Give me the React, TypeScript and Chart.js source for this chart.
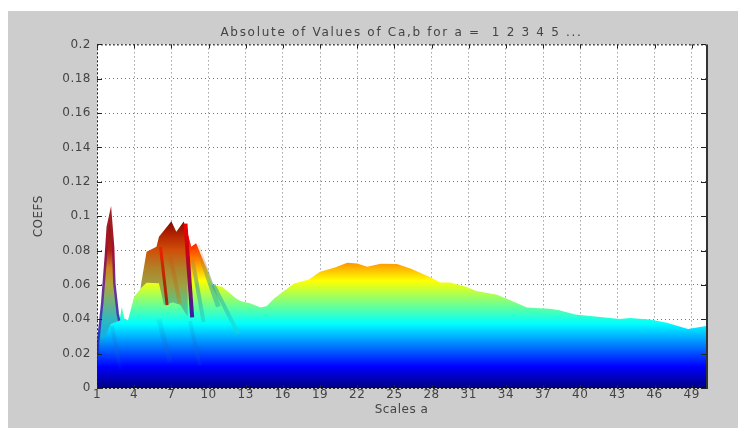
import React, { useEffect, useRef } from "react";
import { Chart, registerables } from "chart.js";

Chart.register(...registerables);

const titleText = "Absolute of Values of Ca,b for a =  1 2 3 4 5 ...";
const xTitle = "Scales a";
const yTitle = "COEFS";
const xTickValues = [1, 4, 7, 10, 13, 16, 19, 22, 25, 28, 31, 34, 37, 40, 43, 46, 49];
const yTickValues = [0, 0.02, 0.04, 0.06, 0.08, 0.1, 0.12, 0.14, 0.16, 0.18, 0.2];

// [scale a, coefficient]
const mainRidge = [
  [8.3, 0.0905], [8.6, 0.0822], [9, 0.0842], [9.9, 0.0686], [10.3, 0.0599], [11.1, 0.0589], [12.2, 0.0522],
  [12.57, 0.0506], [13.4, 0.0492], [14.2, 0.0469], [14.7, 0.0477], [15.3, 0.0521], [16, 0.056], [16.9, 0.0608],
  [18.1, 0.0632], [19, 0.0677], [20.2, 0.0702], [21.2, 0.0729], [22, 0.0725], [22.8, 0.0706], [23.9, 0.0723],
  [25.2, 0.0722], [26.3, 0.0696], [27.9, 0.0644], [28.7, 0.0614], [29.5, 0.0614], [30.8, 0.0589], [31.6, 0.0564],
  [33.3, 0.0543], [34.3, 0.0512], [35.7, 0.0469], [37.5, 0.0461], [38.3, 0.0453], [39.6, 0.0428], [41, 0.0418],
  [43.2, 0.0401], [44, 0.0407], [45.6, 0.0399], [47, 0.038], [48.7, 0.0343], [50.15, 0.0361],
];
const peakBack = [
  [4.5, 0.058], [5, 0.0793], [5.8, 0.0822], [6, 0.088], [7, 0.0971], [7.4, 0.0909], [8, 0.0969], [8.6, 0.0822], [9, 0.06],
];
const spike = [
  [1, 0.02], [1.08, 0.026], [1.42, 0.0494], [1.71, 0.0763], [1.87, 0.0938], [2.09, 0.101], [2.3, 0.0821],
  [2.4, 0.0609], [2.67, 0.0434], [2.8, 0.0385],
];
const midLayer = [
  [2.6, 0.038], [2.8, 0.0385], [3, 0.0473], [3.2, 0.0405], [3.5, 0.0395], [4, 0.0531], [4.6, 0.0585], [5, 0.0613],
  [6, 0.0609], [6.4, 0.0483], [7.1, 0.0497], [7.7, 0.0483], [8.4, 0.0405], [9, 0.038],
];
const frontLayer = [
  [1, 0.014], [1.5, 0.027], [2.1, 0.0372], [2.9, 0.0395], [3.9, 0.0385], [4.7, 0.0366], [5.8, 0.0444], [7.1, 0.0497],
  [7.7, 0.0483], [8.4, 0.0405], [9.7, 0.036], [10.8, 0.0328], [12.4, 0.0309], [13, 0.03],
];
const streakRedA = [[6.12, 0.0822], [6.66, 0.0482]];
const streakMuted = [[6.93, 0.0764], [7.68, 0.0492]];
const streakDeep = [[8.14, 0.0957], [8.68, 0.0411]];
const streakTealA = [[9.08, 0.0831], [10.8, 0.0473]];
const streakTealB = [[8.7, 0.075], [9.6, 0.0385]];
const streakTealC = [[10.4, 0.06], [12.4, 0.0315]];
const streakLowA = [[2.2, 0.036], [2.9, 0.0105]];
const streakLowB = [[8.5, 0.039], [9.3, 0.013]];
const streakLowC = [[6, 0.04], [6.9, 0.015]];

// colour ramps: value → colour
const jet: [number, string][] = [
  [0, "#000082"], [0.0125, "#0000ff"], [0.0375, "#00ffff"], [0.0625, "#ffff00"], [0.0875, "#ff0000"], [0.1, "#800000"],
];
const mutedPeak: [number, string][] = [
  [0.04, "#20d8c8"], [0.05, "#60c080"], [0.06, "#a0a040"], [0.07, "#b08028"], [0.08, "#d05008"], [0.09, "#b02000"], [0.098, "#780800"],
];
const spikeFill: [number, string][] = [
  [0, "#000082"], [0.0125, "#0000ff"], [0.03, "#10b0e0"], [0.04, "#30b8c0"], [0.05, "#70b080"], [0.06, "#b0a838"],
  [0.07, "#d08020"], [0.08, "#b02018"], [0.1, "#801010"],
];
const rimSpike: [number, string][] = [
  [0, "#0000a0"], [0.02, "#1030d0"], [0.04, "#4040b0"], [0.06, "#703090"], [0.08, "#a01030"], [0.1, "#a02020"],
];
const rimRed: [number, string][] = [[0.048, "#a02808"], [0.06, "#b02800"], [0.083, "#f02000"]];
const rimSoft: [number, string][] = [[0.049, "rgba(160,150,50,0.6)"], [0.076, "rgba(200,90,20,0.6)"]];
const rimDeep: [number, string][] = [[0.041, "#3020b0"], [0.06, "#801058"], [0.08, "#d00010"], [0.096, "#f00000"]];
const rimTeal: [number, string][] = [[0.035, "rgba(30,210,200,0.5)"], [0.06, "rgba(50,160,150,0.6)"], [0.08, "rgba(220,100,20,0.15)"]];
const rimLow: [number, string][] = [[0.01, "rgba(0,60,220,0.05)"], [0.025, "rgba(20,110,220,0.45)"], [0.04, "rgba(20,200,220,0.25)"]];

function ramp(stops: [number, string][]) {
  return (ctx: any) => {
    const chart = ctx.chart;
    const y = chart.scales.y;
    if (!chart.chartArea || !y) return "#000082";
    const y0 = y.getPixelForValue(0);
    const y1 = y.getPixelForValue(0.1);
    const g = chart.ctx.createLinearGradient(0, y0, 0, y1);
    stops.forEach(([v, c]) => g.addColorStop(Math.min(1, v / 0.1), c));
    return g;
  };
}

const pts = (a: number[][]) => a.map(([x, y]) => ({ x, y }));
const area = (data: number[][], stops: [number, string][], order: number) => ({
  data: pts(data), fill: "origin", backgroundColor: ramp(stops), borderWidth: 0, pointRadius: 0, tension: 0, order,
});
const streak = (data: number[][], stops: [number, string][], width: number, order: number) => ({
  data: pts(data), fill: false, borderColor: ramp(stops), borderWidth: width, pointRadius: 0, tension: 0, order,
});

const frame = {
  id: "frame",
  beforeDraw(chart: any) {
    const ctx = chart.ctx;
    ctx.letterSpacing = "0.5px";
    const tb = chart.titleBlock;
    if (tb && !tb.__wide) {
      const orig = tb.draw.bind(tb);
      tb.draw = (...args: any[]) => {
        ctx.save();
        ctx.letterSpacing = "1.7px";
        orig(...args);
        ctx.restore();
      };
      tb.__wide = true;
    }
    const { left, right, top, bottom } = chart.chartArea;
    ctx.save();
    ctx.fillStyle = "#fff";
    ctx.fillRect(left, top, right - left, bottom - top);
    ctx.restore();
  },
  afterDraw(chart: any) {
    const { ctx, chartArea: a, scales } = chart;
    ctx.save();
    ctx.strokeStyle = "#222";
    ctx.lineWidth = 1;
    const seg = (x0: number, y0: number, x1: number, y1: number) => {
      ctx.beginPath(); ctx.moveTo(x0, y0); ctx.lineTo(x1, y1); ctx.stroke();
    };
    scales.x.ticks.forEach((t: any) => {
      const p = Math.round(scales.x.getPixelForValue(t.value)) + 0.5;
      seg(p, a.bottom, p, a.bottom - 3);
      seg(p, a.top, p, a.top + 4);
    });
    scales.y.ticks.forEach((t: any) => {
      const p = Math.round(scales.y.getPixelForValue(t.value)) + 0.5;
      seg(a.left, p, a.left + 5, p);
      seg(a.right, p, a.right - 5, p);
    });
    ctx.setLineDash([2, 2]);
    seg(a.left + 0.5, a.top, a.left + 0.5, a.bottom);
    seg(a.left, a.bottom + 0.5, a.right, a.bottom + 0.5);
    seg(a.left, a.top + 0.5, a.right, a.top + 0.5);
    ctx.setLineDash([]);
    ctx.lineWidth = 2;
    ctx.strokeStyle = "#333";
    seg(a.right + 1, a.top, a.right + 1, a.bottom + 1);
    ctx.restore();
  },
};

export default function App() {
  const ref = useRef<HTMLCanvasElement>(null);
  useEffect(() => {
    const font = { family: "'DejaVu Sans'", size: 12 };
    const chart = new Chart(ref.current!, {
      type: "line",
      data: {
        datasets: [
          area(peakBack, mutedPeak, 20),
          area(mainRidge, jet, 19),
          streak(streakTealB, rimTeal, 4, 18),
          streak(streakTealA, rimTeal, 5, 17),
          streak(streakTealC, rimTeal, 4, 16),
          area(midLayer, jet, 15),
          streak(streakRedA, rimRed, 3, 14),
          streak(streakMuted, rimSoft, 4, 13),
          streak(streakDeep, rimDeep, 4, 12),
          { ...area(spike, spikeFill, 11), borderWidth: 2.5, borderColor: ramp(rimSpike) },
          area(frontLayer, jet, 10),
          streak(streakLowA, rimLow, 4, 9),
          streak(streakLowB, rimLow, 4, 8),
          streak(streakLowC, rimLow, 5, 7),
        ] as any,
      },
      plugins: [frame],
      options: {
        responsive: false,
        animation: false,
        layout: { padding: { left: 32, right: 32, top: 0, bottom: 11 } },
        plugins: {
          legend: { display: false },
          tooltip: { enabled: false },
          title: {
            display: true, text: titleText, color: "#444", font: { ...font, weight: "normal" },
            fullSize: false, padding: { top: 26, bottom: 4 },
          },
        },
        scales: {
          x: {
            type: "linear", min: 1, max: 50.15,
            afterBuildTicks: (s: any) => { s.ticks = xTickValues.map((value) => ({ value })); },
            ticks: { color: "#444", font, padding: 0, maxRotation: 0, autoSkip: false, callback: (v: any) => String(v) },
            grid: { color: "#777", drawTicks: false, tickLength: 0 },
            border: { display: false, dash: [1, 3] },
            title: { display: true, text: xTitle, color: "#444", font, padding: 0 },
            afterFit: (s: any) => { s.height = 29; },
          },
          y: {
            min: 0, max: 0.2,
            afterBuildTicks: (s: any) => { s.ticks = yTickValues.map((value) => ({ value })); },
            ticks: { color: "#444", font, padding: 6, autoSkip: false, callback: (v: any) => String(+Number(v).toFixed(2)) },
            grid: { color: "#777", drawTicks: false, tickLength: 0 },
            border: { display: false, dash: [1, 3] },
            title: { display: true, text: yTitle, color: "#444", font, padding: 0 },
            afterFit: (s: any) => { s.width = 65; },
          },
        },
      } as any,
    });
    chart.draw();
    return () => chart.destroy();
  }, []);
  return (
    <div style={{ position: "fixed", left: 0, top: 0, width: 738, height: 428, background: "#fff", overflow: "hidden" }}>
      <div style={{ position: "absolute", left: 8, top: 11, right: 0, bottom: 0, background: "#cdcdcd" }} />
      <canvas ref={ref} width={738} height={428} style={{ position: "absolute", left: 0, top: 0, filter: "blur(0.5px)" }} />
    </div>
  );
}
